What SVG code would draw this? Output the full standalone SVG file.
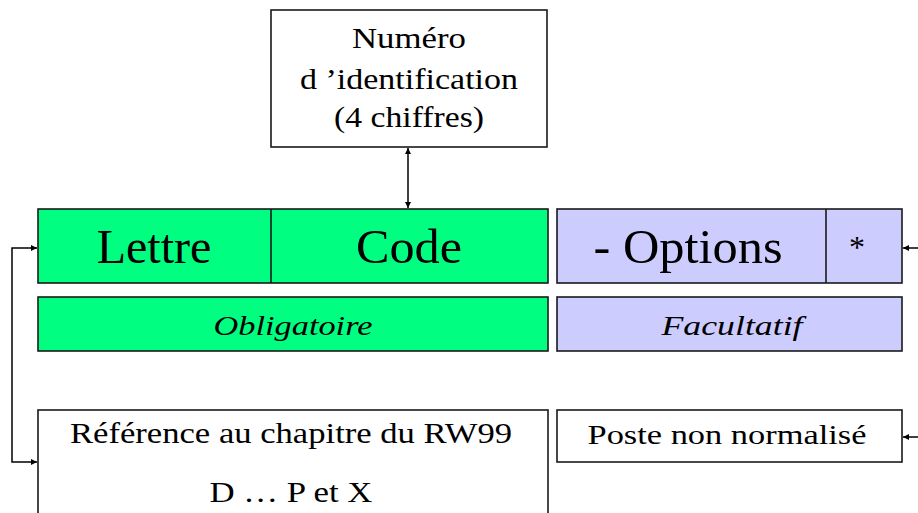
<svg xmlns="http://www.w3.org/2000/svg" width="918" height="513" viewBox="0 0 918 513">
<defs>
<style>
.box{stroke:#1a1a1a;stroke-width:1.6}
.g{fill:#00FF80}
.b{fill:#CCCCFF}
.w{fill:#FFFFFF}
.c{stroke:#000;stroke-width:1.5;fill:none}
</style>
<marker id="ah" viewBox="0 0 10 10" refX="10" refY="5" markerWidth="6" markerHeight="6" markerUnits="userSpaceOnUse" orient="auto-start-reverse">
<path d="M0,0 L10,5 L0,10 Z" fill="#000"/>
</marker>
</defs>
<rect width="918" height="513" fill="#fff"/>
<g id="numero">
<rect class="box w" x="271" y="10" width="276" height="137"/>
<text x="409" y="48" font-family="Liberation Serif" font-size="30" text-anchor="middle" textLength="114" lengthAdjust="spacingAndGlyphs">Numéro</text>
<text x="409" y="89" font-family="Liberation Serif" font-size="30" text-anchor="middle" textLength="218" lengthAdjust="spacingAndGlyphs">d ’identification</text>
<text x="409" y="127" font-family="Liberation Serif" font-size="30" text-anchor="middle" textLength="150" lengthAdjust="spacingAndGlyphs">(4 chiffres)</text>
</g>
<g id="lettre-code">
<rect class="box g" x="38" y="209" width="510" height="74"/>
<line class="box" x1="271" y1="209" x2="271" y2="283"/>
<text x="154" y="263" font-family="Liberation Serif" font-size="48" text-anchor="middle">Lettre</text>
<text x="409" y="263" font-family="Liberation Serif" font-size="48" text-anchor="middle" textLength="106" lengthAdjust="spacingAndGlyphs">Code</text>
</g>
<g id="options">
<rect class="box b" x="557" y="209" width="345" height="74"/>
<line class="box" x1="826" y1="209" x2="826" y2="283"/>
<text x="688" y="263" font-family="Liberation Serif" font-size="48" text-anchor="middle" textLength="189" lengthAdjust="spacingAndGlyphs">- Options</text>
<text x="857" y="258" font-family="Liberation Serif" font-size="32" text-anchor="middle">*</text>
</g>
<g id="obligatoire">
<rect class="box g" x="38" y="297" width="510" height="54"/>
<text x="293" y="335" font-family="Liberation Serif" font-style="italic" font-size="27" text-anchor="middle" textLength="159" lengthAdjust="spacingAndGlyphs">Obligatoire</text>
</g>
<g id="facultatif">
<rect class="box b" x="557" y="297" width="345" height="54"/>
<text x="732" y="335" font-family="Liberation Serif" font-style="italic" font-size="27" text-anchor="middle" textLength="141" lengthAdjust="spacingAndGlyphs">Facultatif</text>
</g>
<g id="reference">
<rect class="box w" x="38" y="410" width="510" height="110"/>
<text x="291" y="443" font-family="Liberation Serif" font-size="30" text-anchor="middle" textLength="442" lengthAdjust="spacingAndGlyphs">Référence au chapitre du RW99</text>
<text x="291" y="502" font-family="Liberation Serif" font-size="30" text-anchor="middle" textLength="163" lengthAdjust="spacingAndGlyphs">D … P et X</text>
</g>
<g id="poste">
<rect class="box w" x="557" y="410" width="345" height="52"/>
<text x="727" y="444" font-family="Liberation Serif" font-size="28" text-anchor="middle" textLength="279" lengthAdjust="spacingAndGlyphs">Poste non normalisé</text>
</g>
<g id="connectors">
<line class="c" x1="408" y1="148" x2="408" y2="208" marker-start="url(#ah)" marker-end="url(#ah)"/>
<polyline class="c" points="37,248 12,248 12,462 37,462" marker-start="url(#ah)" marker-end="url(#ah)"/>
<line class="c" x1="918" y1="248" x2="903" y2="248" marker-end="url(#ah)"/>
<line class="c" x1="918" y1="437" x2="903" y2="437" marker-end="url(#ah)"/>
</g>
</svg>
